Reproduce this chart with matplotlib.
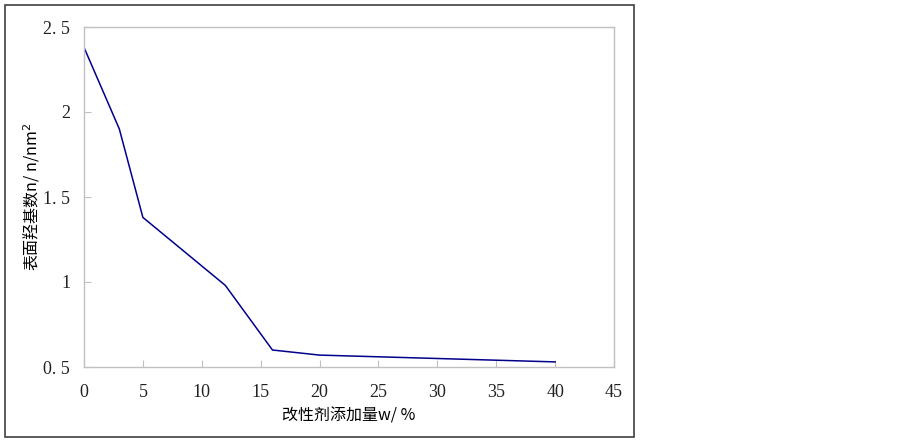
import matplotlib.pyplot as plt
from matplotlib.patches import Rectangle

# modifier dosage (w/%) vs surface hydroxyl number (n/nm^2)
dosage = [0, 3, 5, 12, 16, 20, 40]
hydroxyl = [2.38, 1.9, 1.38, 0.98, 0.6, 0.57, 0.53]

x_ticks = [0, 5, 10, 15, 20, 25, 30, 35, 40, 45]
y_ticks = [0.5, 1, 1.5, 2, 2.5]
y_labels = ['0. 5', '1', '1. 5', '2', '2. 5']

plt.rcParams['font.family'] = ['Liberation Serif', 'Noto Sans CJK SC', 'DejaVu Sans']

fig = plt.figure(figsize=(9, 4.43), dpi=100)
ax = fig.add_axes([84 / 900, 1 - 367 / 443, 530 / 900, 340 / 443])

# outer frame around the chart
fig.patches.append(Rectangle((5 / 900, 1 - 437 / 443), 629 / 900, 432 / 443,
                             transform=fig.transFigure, fill=False,
                             edgecolor='#404040', linewidth=1.2))

ax.plot(dosage, hydroxyl, color='#00008B', linewidth=1.1)

ax.set_xlim(0, 45)
ax.set_ylim(0.5, 2.5)
ax.set_xticks(x_ticks)
ax.set_yticks(y_ticks)
ax.set_yticklabels(y_labels)

for s in ax.spines.values():
    s.set_color('#c0c0c0')
    s.set_linewidth(1.0)
ax.tick_params(direction='in', length=5, color='#c0c0c0', labelsize=13, labelcolor='#222222')
ax.tick_params(axis='x', pad=12)
ax.tick_params(axis='y', pad=10)

ax.set_xlabel('改性剂添加量w/ %', family=['Noto Sans CJK SC', 'DejaVu Sans'],
              fontsize=11.5, labelpad=5)
ax.set_ylabel('表面羟基数n/ n/nm$^2$', family=['Noto Sans CJK SC', 'DejaVu Sans'],
              fontsize=11.5, labelpad=1)

fig.savefig('out.png', dpi=100)
